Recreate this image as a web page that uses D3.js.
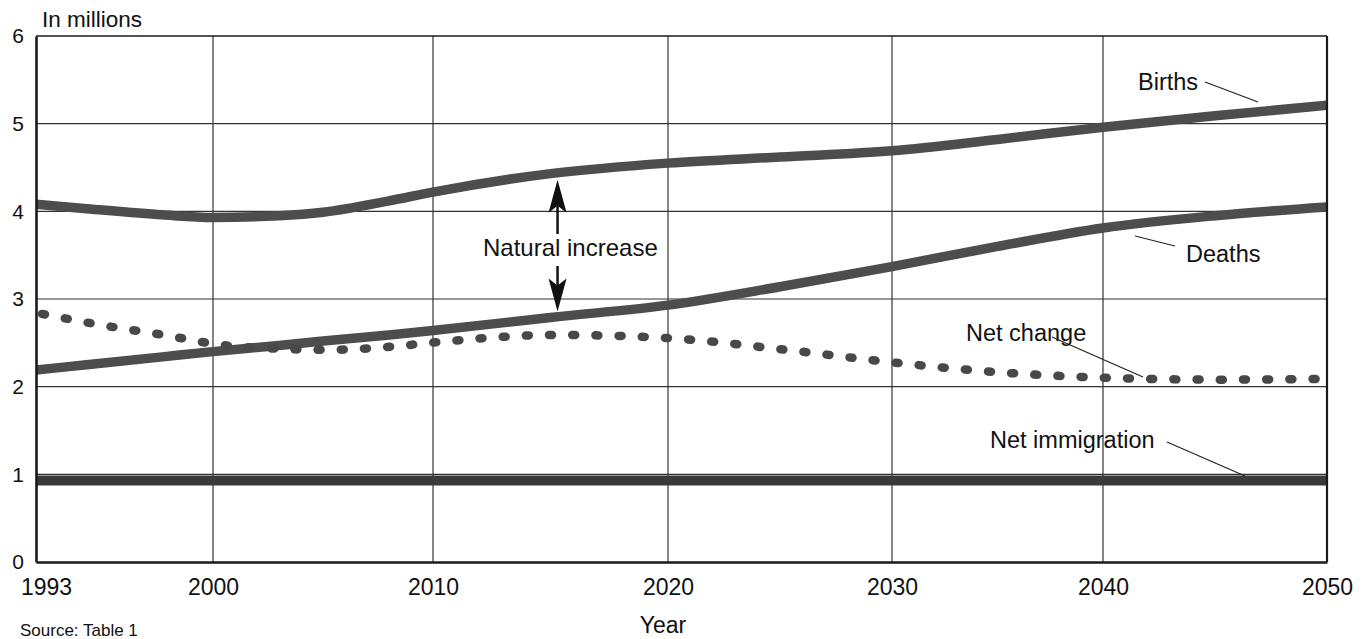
<!DOCTYPE html>
<html>
<head>
<meta charset="utf-8">
<script src="https://cdn.jsdelivr.net/npm/d3@7"></script>
<style>
  html, body { margin: 0; padding: 0; background: #fff; }
  svg { display: block; font-family: "Liberation Sans", Arial, Helvetica, sans-serif; }
</style>
</head>
<body>
<svg id="chart" width="1367" height="639"></svg>
<script>
// ---- data ----
const years = [1993, 1995, 1998, 2000, 2003, 2005, 2008, 2010, 2015, 2020, 2025, 2030, 2035, 2040, 2045, 2050];
const births = [4.08, 4.03, 3.96, 3.93, 3.95, 3.99, 4.12, 4.22, 4.43, 4.55, 4.62, 4.69, 4.82, 4.96, 5.09, 5.21];
const deaths = [2.19, 2.25, 2.34, 2.40, 2.47, 2.52, 2.59, 2.64, 2.79, 2.93, 3.14, 3.37, 3.60, 3.81, 3.95, 4.05];
const netChange = [2.83, 2.72, 2.58, 2.48, 2.43, 2.42, 2.46, 2.51, 2.59, 2.55, 2.42, 2.27, 2.16, 2.10, 2.08, 2.09];
const netImmigration = [0.93, 0.93, 0.93, 0.93, 0.93, 0.93, 0.93, 0.93, 0.93, 0.93, 0.93, 0.93, 0.93, 0.93, 0.93, 0.93];
const xTickYears = [1993, 2000, 2010, 2020, 2030, 2040, 2050];
const xTickLabels = ["1993", "2000", "2010", "2020", "2030", "2040", "2050"];
const yTicks = [0, 1, 2, 3, 4, 5, 6];
const yTickLabels = ["0", "1", "2", "3", "4", "5", "6"];

// ---- layout ----
const svg = d3.select("#chart");
const pLeft = 36, pRight = 1327, pTop = 36, pBottom = 562;
// the printed axis is not perfectly uniform: 1993-2000 is stretched
const x = d3.scaleLinear()
  .domain(xTickYears)
  .range([pLeft, 213, 433, 668, 892, 1103, pRight]);
const y = d3.scaleLinear().domain([0, 6]).range([pBottom, pTop]);

const ink = "#1a1a1a";

svg.append("defs").append("clipPath").attr("id", "plotClip")
  .append("rect").attr("x", pLeft).attr("y", pTop)
  .attr("width", pRight - pLeft).attr("height", pBottom - pTop);

// gridlines
const grid = svg.append("g");
grid.selectAll("line.h").data(yTicks.filter(d => d > 0 && d < 6)).enter().append("line")
  .attr("x1", pLeft).attr("x2", pRight)
  .attr("y1", d => y(d)).attr("y2", d => y(d))
  .attr("stroke", "#333").attr("stroke-width", 1.2);
grid.selectAll("line.v").data(xTickYears.slice(1, -1)).enter().append("line")
  .attr("x1", d => x(d)).attr("x2", d => x(d))
  .attr("y1", pTop).attr("y2", pBottom)
  .attr("stroke", "#333").attr("stroke-width", 1.2);

// lines
const line = vals => d3.line()
  .x((d, i) => x(years[i]))
  .y(d => y(d))
  .curve(d3.curveMonotoneX)(vals);

const series = svg.append("g").attr("clip-path", "url(#plotClip)");
series.append("path").attr("d", line(netImmigration))
  .attr("fill", "none").attr("stroke", "#3a3a3a").attr("stroke-width", 10);
series.append("path").attr("d", line(deaths))
  .attr("fill", "none").attr("stroke", "#4d4d4d").attr("stroke-width", 9.5).attr("stroke-linecap", "round");
series.append("path").attr("d", line(births))
  .attr("fill", "none").attr("stroke", "#4d4d4d").attr("stroke-width", 9.5).attr("stroke-linecap", "round");
series.append("path").attr("d", line(netChange))
  .attr("fill", "none").attr("stroke", "#484848").attr("stroke-width", 8.5)
  .attr("stroke-linecap", "round").attr("stroke-dasharray", "3 20.2")
  .attr("transform", "translate(6,0)");

// frame
svg.append("line").attr("x1", pLeft).attr("x2", pRight).attr("y1", pTop).attr("y2", pTop).attr("stroke", ink).attr("stroke-width", 1.6);
svg.append("line").attr("x1", pRight).attr("x2", pRight).attr("y1", pTop).attr("y2", pBottom).attr("stroke", ink).attr("stroke-width", 2.2);

// axes (D3 axes, styled)
const yAxis = svg.append("g").attr("transform", `translate(${pLeft},0)`)
  .call(d3.axisLeft(y).tickValues(yTicks).tickFormat((d, i) => yTickLabels[i]).tickSize(0).tickPadding(12));
yAxis.select(".domain").attr("stroke", ink).attr("stroke-width", 2.6);
yAxis.selectAll("text").attr("font-size", 21).attr("fill", "#111")
  .attr("font-family", "Liberation Sans, Arial, sans-serif");

const xAxis = svg.append("g").attr("transform", `translate(0,${pBottom})`)
  .call(d3.axisBottom(x).tickValues(xTickYears).tickFormat((d, i) => xTickLabels[i]).tickSize(0).tickPadding(17));
xAxis.select(".domain").attr("stroke", ink).attr("stroke-width", 2.6);
xAxis.selectAll("text").attr("font-size", 23).attr("fill", "#111")
  .attr("font-family", "Liberation Sans, Arial, sans-serif")
  .attr("dx", (d, i) => i === 0 ? 10 : 0);

// text helpers
function label(txt, tx, ty, size, anchor) {
  svg.append("text").attr("x", tx).attr("y", ty).attr("font-size", size)
    .attr("fill", "#111").attr("text-anchor", anchor || "start").text(txt);
}
function leader(x1, y1, x2, y2) {
  svg.append("line").attr("x1", x1).attr("y1", y1).attr("x2", x2).attr("y2", y2)
    .attr("stroke", "#222").attr("stroke-width", 1.2);
}

label("In millions", 42, 27, 22.5);
label("Year", 663, 633, 23, "middle");
label("Source: Table 1", 20, 636, 17);

// series annotations
label("Births", 1138, 90, 23.5);
leader(1205, 82, 1258, 102);
label("Deaths", 1186, 262, 23.5);
leader(1135, 236, 1175, 246);
label("Net change", 966, 341, 23.5);
leader(1052, 337, 1143, 377);
label("Net immigration", 990, 448, 23.5);
leader(1167, 442, 1245, 476);

// Natural increase with arrows between births and deaths
const ax = x(2015.3);
label("Natural increase", 483, 256, 24);
function arrow(tipY, dir) {
  // dir: -1 = pointing up, 1 = pointing down
  const headLen = 33, halfW = 9, notch = 7;
  const baseY = tipY - dir * headLen;
  const p = d3.path();
  p.moveTo(ax, tipY);
  p.lineTo(ax + halfW, baseY);
  p.lineTo(ax, baseY + dir * notch);
  p.lineTo(ax - halfW, baseY);
  p.closePath();
  svg.append("path").attr("d", p.toString()).attr("fill", "#111");
}
svg.append("line").attr("x1", ax).attr("x2", ax).attr("y1", 200).attr("y2", 234).attr("stroke", "#111").attr("stroke-width", 2.5);
svg.append("line").attr("x1", ax).attr("x2", ax).attr("y1", 266).attr("y2", 295).attr("stroke", "#111").attr("stroke-width", 2.5);
arrow(y(4.43) + 6, -1);
arrow(y(2.79) - 6, 1);
</script>
</body>
</html>
